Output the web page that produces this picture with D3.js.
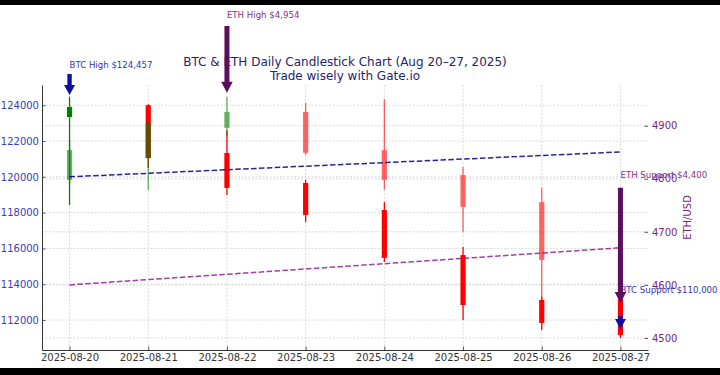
<!DOCTYPE html>
<html>
<head>
<meta charset="utf-8">
<script src="https://cdn.jsdelivr.net/npm/d3@7"></script>
<style>
  html, body { margin: 0; padding: 0; background: #fff; }
  svg { display: block; font-family: "DejaVu Sans", sans-serif; }
</style>
</head>
<body>
<div id="chart"></div>
<script>
// daily candles
const dates = ["2025-08-20", "2025-08-21", "2025-08-22", "2025-08-23",
               "2025-08-24", "2025-08-25", "2025-08-26", "2025-08-27"];

const btcOpen  = [123340, 124000, 121330, 119660, 118150, 115630, 113120, 113290];
const btcHigh  = [124457, 124050, 122600, 119830, 118590, 116080, 113300, 113500];
const btcLow   = [118430, 120500, 118980, 117480, 115240, 112000, 111440, 111000];
const btcClose = [123900, 121050, 119380, 117870, 115470, 112840, 111840, 111160];

const ethOpen  = [4798, 4839, 4896, 4926, 4854, 4807, 4756, 4656];
const ethHigh  = [4870, 4910, 4954, 4943, 4950, 4822, 4783, 4665];
const ethLow   = [4790, 4779, 4880, 4845, 4779, 4700, 4572, 4500];
const ethClose = [4854, 4905, 4926, 4849, 4798, 4747, 4647, 4590];

// dashed trend lines, first and last day
const btcTrend = [120000, 121390];
const ethTrend = [4600, 4670];

const btcTicks = [112000, 114000, 116000, 118000, 120000, 122000, 124000];
const ethTicks = [4500, 4600, 4700, 4800, 4900];

// annotations
const noteText  = ["BTC High $124,457", "ETH High $4,954", "ETH Support $4,400", "BTC Support $110,000"];
const noteAxis  = ["btc", "eth", "eth", "btc"];
const noteDay   = [0, 2, 7, 7];
const noteTip   = [124570, 4962, 4566, 111500];
const noteTail  = [125750, 5088, 4783, 112230];
const noteLabel = [126080, 5103, 4802, 113510];

const W = 720, H = 375;
const margin = {top: 85, right: 72, bottom: 25, left: 42};
const upColor = "#008000", downColor = "#ff0000";
const btcColor = "#1010a0", ethColor = "#5c0f5f";

const svg = d3.select("#chart").append("svg")
    .attr("width", W)
    .attr("height", H);

svg.append("rect").attr("width", W).attr("height", H).attr("fill", "#fff");

const pad = (dates.length - 1) * 0.05;
const x = d3.scaleLinear()
    .domain([-pad, dates.length - 1 + pad])
    .range([margin.left, W - margin.right]);

function paddedDomain(lo, hi) {
  const p = (hi - lo) * 0.05;
  return [lo - p, hi + p];
}

const yBtc = d3.scaleLinear()
    .domain(paddedDomain(d3.min(btcLow), d3.max(btcHigh)))
    .range([H - margin.bottom, margin.top]);

const yEth = d3.scaleLinear()
    .domain(paddedDomain(d3.min(ethLow), d3.max(ethHigh)))
    .range([H - margin.bottom, margin.top]);

const days = d3.range(dates.length);

// grid
const grid = svg.append("g").attr("stroke", "#dadada").attr("stroke-width", 1)
    .attr("stroke-dasharray", "2,1.5");
grid.selectAll("line.v").data(days).join("line").attr("class", "v")
    .attr("x1", i => x(i)).attr("x2", i => x(i))
    .attr("y1", margin.top).attr("y2", H - margin.bottom);
grid.selectAll("line.hb").data(btcTicks).join("line").attr("class", "hb")
    .attr("x1", margin.left).attr("x2", W - margin.right)
    .attr("y1", d => yBtc(d)).attr("y2", d => yBtc(d));
grid.selectAll("line.he").data(ethTicks).join("line").attr("class", "he")
    .attr("x1", margin.left).attr("x2", W - margin.right)
    .attr("y1", d => yEth(d)).attr("y2", d => yEth(d));

function drawCandles(y, open, high, low, close, opacity) {
  const g = svg.append("g");
  const c = g.selectAll("g").data(days).join("g")
      .attr("opacity", opacity);
  c.append("line")
      .attr("x1", i => x(i)).attr("x2", i => x(i))
      .attr("y1", i => y(high[i])).attr("y2", i => y(low[i]))
      .attr("stroke", i => close[i] >= open[i] ? upColor : downColor)
      .attr("stroke-width", 1.3);
  c.append("rect")
      .attr("x", i => x(i) - 2.6)
      .attr("width", 5.2)
      .attr("y", i => y(Math.max(open[i], close[i])))
      .attr("height", i => Math.abs(y(open[i]) - y(close[i])))
      .attr("fill", i => close[i] >= open[i] ? upColor : downColor);
}

drawCandles(yBtc, btcOpen, btcHigh, btcLow, btcClose, 1);
drawCandles(yEth, ethOpen, ethHigh, ethLow, ethClose, 0.6);

// trend lines
const last = dates.length - 1;
svg.append("line")
    .attr("x1", x(0)).attr("x2", x(last))
    .attr("y1", yBtc(btcTrend[0])).attr("y2", yBtc(btcTrend[1]))
    .attr("stroke", "#000080").attr("stroke-opacity", 0.85)
    .attr("stroke-width", 1.5).attr("stroke-dasharray", "5.5,2.4");
svg.append("line")
    .attr("x1", x(0)).attr("x2", x(last))
    .attr("y1", yEth(ethTrend[0])).attr("y2", yEth(ethTrend[1]))
    .attr("stroke", "#800080").attr("stroke-opacity", 0.75)
    .attr("stroke-width", 1.5).attr("stroke-dasharray", "5.5,2.4");

// axes
const xAxis = svg.append("g")
    .attr("transform", "translate(0," + (H - margin.bottom) + ")")
    .call(d3.axisBottom(x).tickValues(days).tickFormat(i => dates[i])
          .tickSize(-3.5).tickSizeOuter(0).tickPadding(4));
xAxis.selectAll("text").attr("font-size", 10).attr("fill", "#333")
    .attr("font-family", "DejaVu Sans");
xAxis.select(".domain").attr("stroke", "#333");
xAxis.selectAll(".tick line").attr("stroke", "#555");

const leftAxis = svg.append("g")
    .attr("transform", "translate(" + margin.left + ",0)")
    .call(d3.axisLeft(yBtc).tickValues(btcTicks).tickFormat(d3.format("d"))
          .tickSize(-3.5).tickSizeOuter(0).tickPadding(3));
leftAxis.selectAll("text").attr("font-size", 10).attr("fill", "#3c3cb4")
    .attr("font-family", "DejaVu Sans");
leftAxis.select(".domain").attr("stroke", "#333");
leftAxis.selectAll(".tick line").attr("stroke", "#555");

const rightAxis = svg.append("g")
    .attr("transform", "translate(" + (W - margin.right) + ",0)")
    .call(d3.axisRight(yEth).tickValues(ethTicks).tickFormat(d3.format("d"))
          .tickSize(-3.5).tickSizeOuter(0).tickPadding(4));
rightAxis.selectAll("text").attr("font-size", 10).attr("fill", "#7b247b")
    .attr("font-family", "DejaVu Sans");
rightAxis.select(".domain").remove();
rightAxis.selectAll(".tick line").attr("stroke", "#555");

svg.append("text")
    .attr("transform", "translate(691," + ((margin.top + H - margin.bottom) / 2) + ")rotate(-90)")
    .attr("text-anchor", "middle")
    .attr("font-size", 10).attr("fill", "#7b247b")
    .text("ETH/USD");

// title
const cx = (margin.left + W - margin.right) / 2;
svg.append("text").attr("x", cx).attr("y", 66).attr("text-anchor", "middle")
    .attr("font-size", 12).attr("fill", "#25256e")
    .text("BTC & ETH Daily Candlestick Chart (Aug 20\u201327, 2025)");
svg.append("text").attr("x", cx).attr("y", 79.5).attr("text-anchor", "middle")
    .attr("font-size", 12).attr("fill", "#25256e")
    .text("Trade wisely with Gate.io");

// annotations: text first, arrows on top
const yFor = (k, v) => noteAxis[k] === "btc" ? yBtc(v) : yEth(v);
const notes = d3.range(noteText.length);

svg.selectAll("text.note").data(notes).join("text").attr("class", "note")
    .attr("x", k => x(noteDay[k]))
    .attr("y", k => yFor(k, noteLabel[k]))
    .attr("font-size", 8.6)
    .attr("fill", k => noteAxis[k] === "btc" ? "#3434b0" : "#853085")
    .text(k => noteText[k]);

function arrowPath(cxp, y0, y1, sw, hw, hl) {
  return "M" + (cxp - sw) + "," + y0 +
         "L" + (cxp + sw) + "," + y0 +
         "L" + (cxp + sw) + "," + (y1 - hl) +
         "L" + (cxp + hw) + "," + (y1 - hl) +
         "L" + cxp + "," + y1 +
         "L" + (cxp - hw) + "," + (y1 - hl) +
         "L" + (cxp - sw) + "," + (y1 - hl) + "Z";
}

svg.selectAll("path.arrow").data(notes).join("path").attr("class", "arrow")
    .attr("d", k => noteAxis[k] === "btc"
        ? arrowPath(x(noteDay[k]), yFor(k, noteTail[k]), yFor(k, noteTip[k]), 2.2, 5.5, 10)
        : arrowPath(x(noteDay[k]), yFor(k, noteTail[k]), yFor(k, noteTip[k]), 2.5, 5.8, 11))
    .attr("fill", k => noteAxis[k] === "btc" ? btcColor : ethColor);

// black bands from the screenshot crop
svg.append("rect").attr("x", 0).attr("y", 0).attr("width", W).attr("height", 5).attr("fill", "#000");
svg.append("rect").attr("x", 0).attr("y", 368).attr("width", W).attr("height", H - 368).attr("fill", "#000");
</script>
</body>
</html>
